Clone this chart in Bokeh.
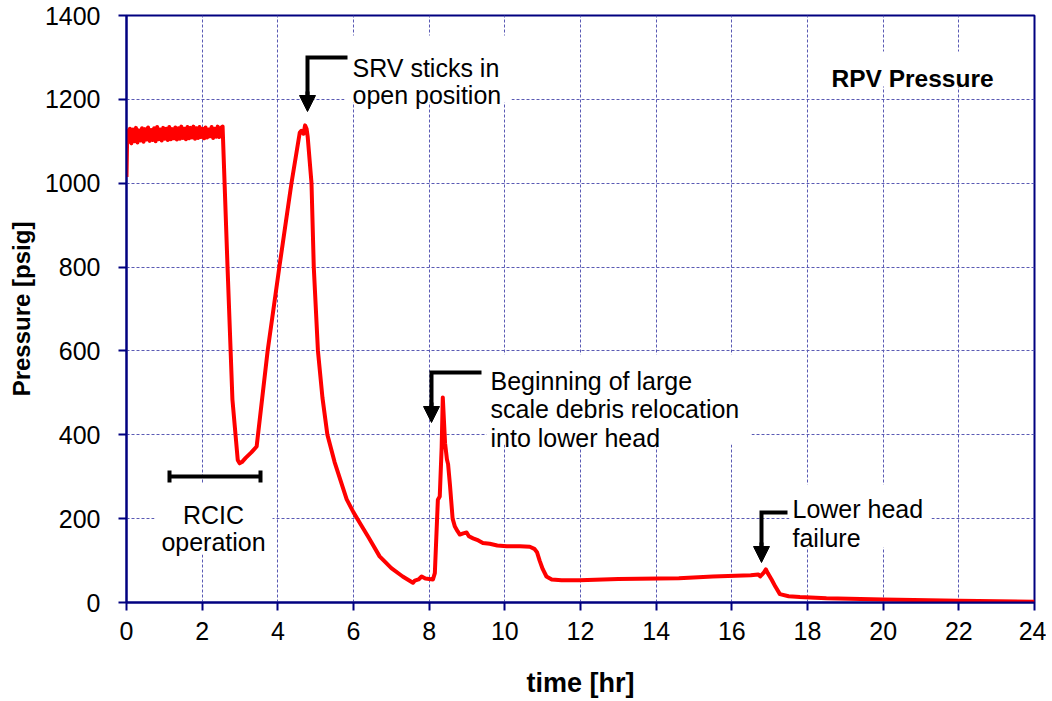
from bokeh.plotting import figure
from bokeh.models import Range1d, Label, Arrow, NormalHead, FixedTicker
from bokeh.embed import file_html
from bokeh.resources import INLINE

# ---------------- data ----------------
time_hr = [0.00, 0.02, 0.05, 0.09, 0.13, 0.17, 0.21, 0.25, 0.29, 0.33, 0.37, 0.41, 0.45,
           0.49, 0.53, 0.57, 0.61, 0.65, 0.69, 0.73, 0.77, 0.81, 0.85, 0.89, 0.93, 0.97,
           1.01, 1.05, 1.09, 1.13, 1.17, 1.21, 1.25, 1.29, 1.33, 1.37, 1.41, 1.45, 1.49,
           1.53, 1.57, 1.61, 1.65, 1.69, 1.73, 1.77, 1.81, 1.85, 1.89, 1.93, 1.97, 2.01,
           2.05, 2.09, 2.13, 2.17, 2.21, 2.25, 2.29, 2.33, 2.37, 2.41, 2.45, 2.50, 2.54,
           2.67, 2.80, 2.94, 2.99, 3.05, 3.15, 3.30, 3.44, 3.73, 4.04, 4.36, 4.58, 4.62,
           4.68, 4.72, 4.76, 4.79, 4.89, 4.95, 5.06, 5.18, 5.31, 5.50, 5.82, 6.00, 6.20,
           6.40, 6.69, 7.00, 7.30, 7.57, 7.62, 7.72, 7.80, 7.90, 8.00, 8.10, 8.15, 8.23,
           8.28, 8.33, 8.36, 8.42, 8.47, 8.50, 8.55, 8.62, 8.68, 8.75, 8.81, 8.90, 8.99,
           9.05, 9.16, 9.30, 9.42, 9.60, 9.80, 10.05, 10.40, 10.66, 10.78, 10.85, 10.92,
           11.00, 11.10, 11.24, 11.50, 11.98, 13.00, 14.60, 15.50, 16.50, 16.70, 16.75,
           16.85, 16.90, 16.95, 17.05, 17.15, 17.27, 17.50, 17.80, 18.50, 20.00, 22.00, 24.00]
pressure_psig = [1015, 1125, 1098, 1130, 1095, 1128, 1100, 1132, 1097, 1126, 1102, 1131, 1099,
                 1129, 1104, 1133, 1101, 1127, 1103, 1131, 1100, 1134, 1105, 1128, 1102, 1132,
                 1106, 1130, 1103, 1134, 1105, 1129, 1107, 1133, 1104, 1131, 1106, 1135, 1108,
                 1130, 1105, 1134, 1107, 1132, 1109, 1135, 1106, 1131, 1108, 1134, 1110, 1130,
                 1107, 1133, 1109, 1128, 1112, 1134, 1108, 1130, 1111, 1135, 1110, 1132, 1135,
                 801, 484, 340, 332, 335, 345, 358, 372, 600, 800, 1000, 1121, 1125,
                 1118, 1138, 1130, 1110, 1000, 800, 600, 488, 400, 335, 246, 215, 185,
                 155, 110, 82, 62, 47, 52, 55, 62, 57, 56, 55, 70, 245,
                 253, 370, 489, 380, 341, 330, 280, 200, 181, 170, 162, 165, 167,
                 158, 153, 148, 142, 140, 136, 134, 134, 133, 128, 120, 100,
                 80, 62, 55, 53, 53, 56, 58, 62, 65, 67, 62,
                 72, 79, 70, 55, 38, 20, 15, 13, 10, 7, 4, 2]
x_ticks = [0, 2, 4, 6, 8, 10, 12, 14, 16, 18, 20, 22, 24]
y_ticks = [0, 200, 400, 600, 800, 1000, 1200, 1400]

FONT = "Liberation Sans"
NAVY = "#000080"

# helpers turning reference-picture pixel positions of annotations into data units
def dx(px):
    return (px - 127) / 908 * 24

def dy(py):
    return (603 - py) / 587 * 1400

p = figure(frame_width=908, frame_height=587,
           min_border_left=126, min_border_right=12, min_border_top=15, min_border_bottom=95,
           x_range=Range1d(0, 24), y_range=Range1d(0, 1400),
           output_backend="svg", toolbar_location=None)
p.background_fill_color = "white"
p.border_fill_color = "white"
p.outline_line_color = NAVY
p.outline_line_width = 2
p.outline_line_alpha = 1.0

for ax, ticks in ((p.xaxis, x_ticks), (p.yaxis, y_ticks)):
    ax.ticker = FixedTicker(ticks=ticks)
    ax.minor_tick_line_color = None
    ax.major_tick_in = 0
    ax.major_tick_out = 8
    ax.major_tick_line_color = NAVY
    ax.major_tick_line_width = 2
    ax.axis_line_color = NAVY
    ax.axis_line_width = 2
    ax.major_label_text_font = FONT
    ax.major_label_text_font_size = "25px"
    ax.major_label_text_color = "black"
    ax.axis_label_text_font = FONT
    ax.axis_label_text_font_style = "bold"
    ax.axis_label_text_color = "black"

p.xaxis.axis_label = "time [hr]"
p.xaxis.axis_label_text_font_size = "27px"
p.xaxis.major_label_standoff = 11
p.xaxis.axis_label_standoff = 25
p.yaxis.axis_label = "Pressure [psig]"
p.yaxis.axis_label_text_font_size = "24px"
p.yaxis.major_label_standoff = 18
p.yaxis.axis_label_standoff = 7

for g in (p.xgrid, p.ygrid):
    g.grid_line_color = "#5a5ab4"
    g.grid_line_dash = "3 2"
    g.grid_line_width = 1

# white backgrounds of the text boxes (hide the grid)
boxes = [(345, 512, 36, 103), (487, 752, 355, 445), (790, 932, 485, 548),
         (155, 273, 484, 555), (820, 1030, 52, 87)]
p.quad(left=[dx(b[0]) for b in boxes], right=[dx(b[1]) for b in boxes],
       top=[dy(b[2]) for b in boxes], bottom=[dy(b[3]) for b in boxes],
       fill_color="white", line_color=None)

# the pressure curve
p.line(time_hr, pressure_psig, line_color="#ff0000", line_width=4, line_join="round")

# annotation arrows
def elbow_arrow(x_tip, y_tip, x_bar_end, y_bar):
    p.line([dx(x_bar_end), dx(x_tip), dx(x_tip)], [dy(y_bar), dy(y_bar), dy(y_tip - 12)],
           line_color="black", line_width=4, line_join="miter")
    p.add_layout(Arrow(x_start=dx(x_tip), y_start=dy(y_tip - 20), x_end=dx(x_tip), y_end=dy(y_tip),
                       line_color="black", line_width=4,
                       end=NormalHead(size=16, fill_color="black", line_color="black", line_width=1)))

elbow_arrow(308, 112, 348, 58)
elbow_arrow(432, 423, 482, 373)
elbow_arrow(762, 563, 788, 513)

# RCIC operation bar
p.segment(x0=[dx(170), dx(170), dx(261)], y0=[dy(477), dy(471), dy(471)],
          x1=[dx(261), dx(170), dx(261)], y1=[dy(477), dy(483), dy(483)],
          line_color="black", line_width=4)

def label(px, py, text, align="left", size="25px", style="normal"):
    p.add_layout(Label(x=dx(px), y=dy(py), text=text, text_font=FONT, text_font_size=size,
                       text_font_style=style, text_color="black", text_align=align,
                       text_baseline="alphabetic"))

label(353, 68, "SRV sticks in")
label(353, 95, "open position")
label(491, 381, "Beginning of large")
label(491, 409, "scale debris relocation")
label(491, 438, "into lower head")
label(793, 509, "Lower head")
label(793, 538, "failure")
label(214, 515, "RCIC", align="center")
label(214, 542, "operation", align="center")
label(832, 79, "RPV Pressure", size="24.5px", style="bold")

open("out.html", "w").write(file_html(p, INLINE))
